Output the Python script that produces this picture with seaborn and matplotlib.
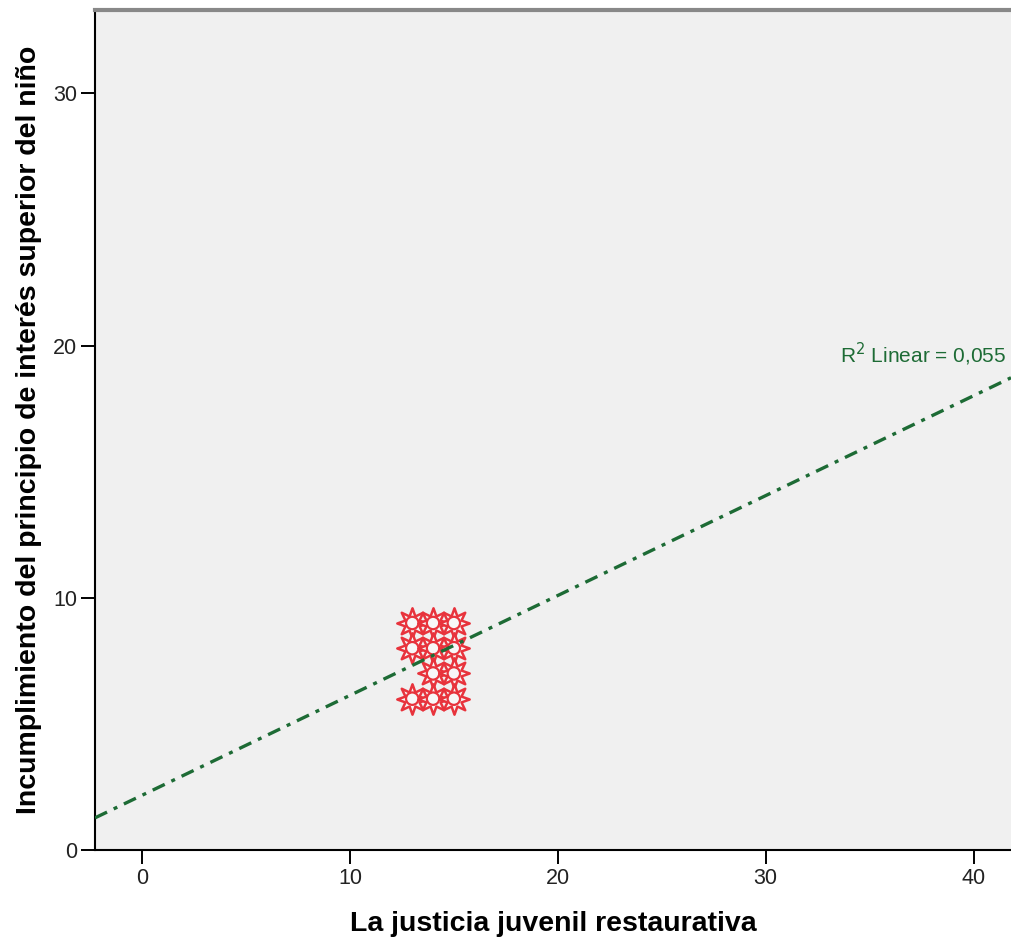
import matplotlib
matplotlib.use("Agg")
import matplotlib.pyplot as plt
import seaborn as sns
import numpy as np
import pandas as pd

# Data
x_vals = [13, 14, 15, 13, 14, 15, 14, 15, 13, 14, 15]
y_vals = [9, 9, 9, 8, 8, 8, 7, 7, 6, 6, 6]
fit_intercept = 2.17
fit_slope = 0.396
r2_label = "R$^2$ Linear = 0,055"
x_ticks = [0, 10, 20, 30, 40]
y_ticks = [0, 10, 20, 30]
x_label = "La justicia juvenil restaurativa"
y_label = "Incumplimiento del principio de interés superior del niño"

sns.set_theme(style="white")
plt.rcParams['font.family'] = ['Liberation Sans', 'DejaVu Sans']

fig = plt.figure(figsize=(10.11, 9.38), dpi=100)
ax = fig.add_axes([0.094, 0.0938, 0.906, 0.8955])
ax.set_facecolor("#f0f0f0")

df = pd.DataFrame({"x": x_vals, "y": y_vals})
sns.scatterplot(data=df, x="x", y="y", ax=ax, marker=(8, 1, 0), s=480,
                facecolor="#f7f7f7", edgecolor="#e8333c", linewidth=1.8, zorder=3)
sns.scatterplot(data=df, x="x", y="y", ax=ax, marker="o", s=80,
                facecolor="none", edgecolor="#e8333c", linewidth=1.6, zorder=4)

xmin, xmax = -2.26, 41.8
ax.set_xlim(xmin, xmax)
ax.set_ylim(0, 33.3)
xs = np.array([xmin, xmax])
ax.plot(xs, fit_intercept + fit_slope * xs, color="#1d6b35", linewidth=2.4,
        linestyle=(0, (4, 2.2, 1.2, 2.2)), zorder=5, solid_capstyle="butt")
ax.text(41.55, 19.1, r2_label, color="#1d6b35", fontsize=15, ha="right", va="bottom")

ax.set_xticks(x_ticks)
ax.set_yticks(y_ticks)
ax.tick_params(axis="both", direction="out", length=10, width=1.4, color="black",
               labelsize=15.5, labelcolor="#222222", pad=3, left=True, bottom=True)
ax.set_xlabel(x_label, fontsize=20.5, fontweight="bold", labelpad=16, color="black")
ax.set_ylabel(y_label, fontsize=20.5, fontweight="bold", labelpad=8, color="black")

for s in ["left", "bottom"]:
    ax.spines[s].set_color("black")
    ax.spines[s].set_linewidth(1.5)
ax.spines["top"].set_color("#888888")
ax.spines["top"].set_linewidth(3)
ax.spines["right"].set_visible(False)

fig.savefig("out.png", dpi=100, facecolor="white")
